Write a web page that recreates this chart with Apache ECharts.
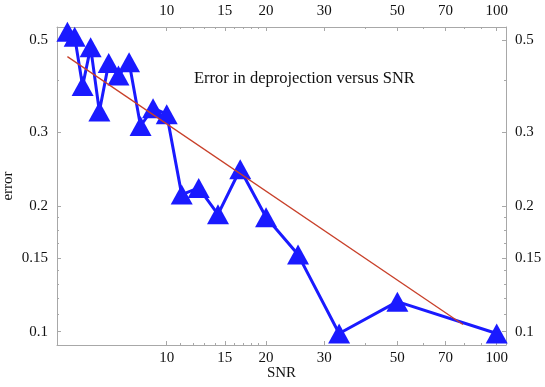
<!DOCTYPE html>
<html>
<head>
<meta charset="utf-8">
<script src="https://cdn.jsdelivr.net/npm/echarts@6/dist/echarts.min.js"></script>
<style>
  html, body { margin: 0; padding: 0; background: #fff; }
  #chart { width: 545px; height: 387px; }
</style>
</head>
<body>
<div id="chart"></div>
<script>
  // measured points (SNR vs deprojection error)
  const snr = [5, 5.26, 5.56, 5.88, 6.25, 6.67, 7.14, 7.69, 8.33, 9.09, 10, 11.1, 12.5, 14.3, 16.7, 20, 25, 33.3, 50, 100]
  const error = [0.523, 0.509, 0.388, 0.480, 0.337, 0.440, 0.411, 0.442, 0.311, 0.343, 0.332, 0.213, 0.221, 0.191, 0.245, 0.188, 0.153, 0.099, 0.118, 0.099]
  // fitted power law, drawn as a straight segment in log-log
  const fitSnr = [5, 79]
  const fitError = [0.456, 0.104]
  // tick marks
  const xMajor = [10, 15, 20, 30, 50, 70, 100]
  const xMinor = [11, 12, 13, 14, 16, 17, 18, 19, 40, 60, 80, 90]
  const yMajor = [0.1, 0.15, 0.2, 0.3, 0.5]
  const yMinor = [0.11, 0.12, 0.13, 0.14, 0.1625, 0.175, 0.1875, 0.4]

  const xMin = 4.65, xMax = 106.7
  const yMin = 0.0929, yMax = 0.537
  const font = 'Liberation Serif'
  const axisColor = '#a8a8a8'

  function xAxisDef (position, ticks, len, labels) {
    return {
      type: 'log',
      position: position,
      min: xMin,
      max: xMax,
      axisLine: { show: labels, onZero: false, lineStyle: { color: axisColor, width: 1 } },
      axisTick: { inside: true, length: len, customValues: ticks, lineStyle: { color: axisColor } },
      axisLabel: {
        show: labels,
        customValues: ticks,
        margin: position === 'top' ? 8 : 6,
        fontFamily: font,
        fontSize: 15,
        color: '#111',
        formatter: v => String(v)
      },
      splitLine: { show: false },
      minorTick: { show: false }
    }
  }

  function yAxisDef (position, ticks, len, labels) {
    return {
      type: 'log',
      position: position,
      min: yMin,
      max: yMax,
      axisLine: { show: labels, onZero: false, lineStyle: { color: axisColor, width: 1 } },
      axisTick: { inside: true, length: len, customValues: ticks, lineStyle: { color: axisColor } },
      axisLabel: {
        show: labels,
        customValues: ticks,
        margin: 9,
        fontFamily: font,
        fontSize: 15,
        color: '#111',
        formatter: v => String(v)
      },
      splitLine: { show: false },
      minorTick: { show: false }
    }
  }

  const xBottom = xAxisDef('bottom', xMajor, 4, true)
  xBottom.name = 'SNR'
  xBottom.nameLocation = 'middle'
  xBottom.nameGap = 21
  xBottom.nameMoveOverlap = false
  xBottom.nameTextStyle = { fontFamily: font, fontSize: 15, color: '#111' }

  const yLeft = yAxisDef('left', yMajor, 4, true)
  yLeft.name = 'error'
  yLeft.nameLocation = 'middle'
  yLeft.nameGap = 41
  yLeft.nameMoveOverlap = false
  yLeft.nameTextStyle = { fontFamily: font, fontSize: 15, color: '#111' }

  const myChart = echarts.init(document.getElementById('chart'))
  const option = {
    animation: false,
    backgroundColor: '#fff',
    title: {
      text: 'Error in deprojection versus SNR',
      left: 194,
      top: 70,
      padding: 0,
      textStyle: { fontFamily: font, fontSize: 16.5, fontWeight: 'normal', color: '#111' }
    },
    grid: { left: 57, right: 39, top: 27, bottom: 42, containLabel: false, outerBoundsMode: 'none' },
    xAxis: [
      xBottom,
      xAxisDef('top', xMajor, 4, true),
      xAxisDef('bottom', xMinor, 2, false),
      xAxisDef('top', xMinor, 2, false)
    ],
    yAxis: [
      yLeft,
      yAxisDef('right', yMajor, 4, true),
      yAxisDef('left', yMinor, 2, false),
      yAxisDef('right', yMinor, 2, false)
    ],
    series: [{
      name: 'error',
      type: 'line',
      xAxisIndex: 0,
      yAxisIndex: 0,
      data: snr.map((s, i) => [s, error[i]]),
      symbol: 'triangle',
      symbolSize: [22, 20],
      showAllSymbol: true,
      clip: false,
      lineStyle: { color: '#1a1aff', width: 3 },
      itemStyle: { color: '#1a1aff' },
      z: 2
    }, {
      name: 'fit',
      type: 'line',
      xAxisIndex: 0,
      yAxisIndex: 0,
      data: fitSnr.map((s, i) => [s, fitError[i]]),
      symbol: 'none',
      lineStyle: { color: '#c8402a', width: 1.3 },
      z: 3
    }]
  }
  myChart.setOption(option)
</script>
</body>
</html>
